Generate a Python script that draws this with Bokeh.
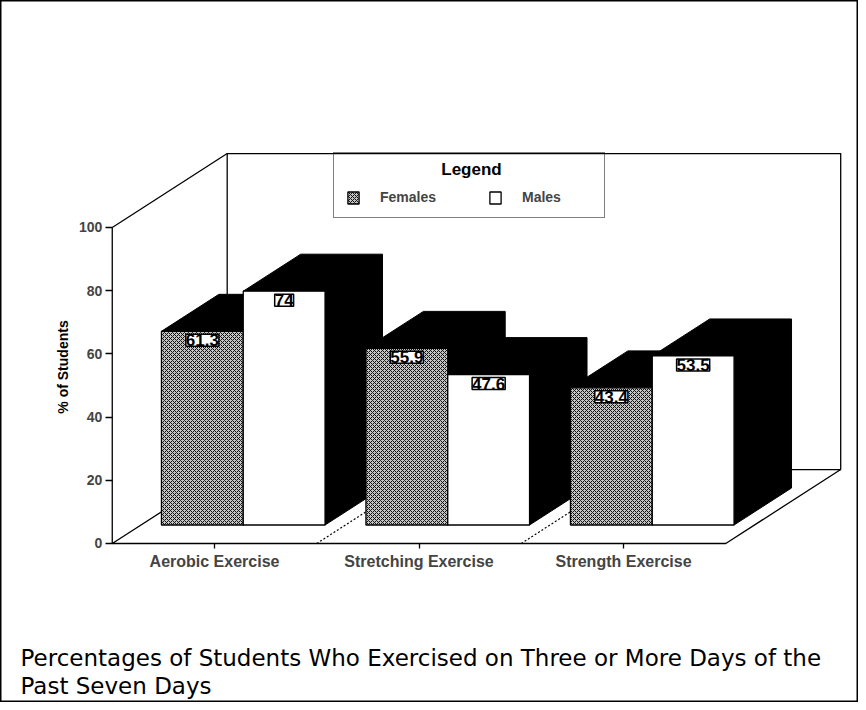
from math import pi
from bokeh.plotting import figure
from bokeh.models import (ColumnDataSource, Range1d, LinearAxis, FixedTicker,
                          LabelSet, Label, Legend, LegendItem)
from bokeh.core.properties import value
from bokeh.embed import file_html
from bokeh.resources import INLINE

# ---------------- data ----------------
categories = ["Aerobic Exercise", "Stretching Exercise", "Strength Exercise"]
females = [61.3, 55.9, 43.4]
males = [74, 47.6, 53.5]
series_names = ["Females", "Males"]
y_ticks = [0, 20, 40, 60, 80, 100]
y_axis_title = "% of Students"
legend_title = "Legend"
caption_lines = ["Percentages of Students Who Exercised on Three or More Days of the",
                 "Past Seven Days"]

# ---------------- geometry / style ----------------
W, H = 858, 702
DEPTH_X = 0.562      # full depth of the 3-D box, in category units
DEPTH_Y = 23.4       # full depth of the 3-D box, in value units
BAR_W = 0.40
FRONT = 0.25         # bars occupy depth fraction FRONT..FRONT+BAR_D
BAR_D = 0.5
BOLD = "Liberation Sans"

n = len(categories)
x_lo, x_hi = -0.5, n - 0.5
y_top = max(y_ticks)

p = figure(width=W, height=H, x_range=Range1d(-1.0465, 3.149), y_range=Range1d(-50.32, 171.83),
           output_backend="svg", toolbar_location=None, x_axis_location=None,
           y_axis_location=None, min_border=0)
p.grid.visible = False
p.outline_line_color = "black"
p.outline_line_width = 2
p.background_fill_color = "white"
p.border_fill_color = "white"

# back wall
p.quad(left=[x_lo + DEPTH_X], right=[x_hi + DEPTH_X], bottom=[DEPTH_Y], top=[y_top + DEPTH_Y],
       fill_color="white", line_color="black", line_width=1.3)
# floor
p.patch([x_lo, x_hi, x_hi + DEPTH_X, x_lo + DEPTH_X], [0, 0, DEPTH_Y, DEPTH_Y],
        fill_color="white", line_color="black", line_width=1.3)
# left wall edges (value axis line + top diagonal)
p.segment(x0=[x_lo, x_lo], y0=[0, y_top], x1=[x_lo, x_lo + DEPTH_X], y1=[y_top, y_top + DEPTH_Y],
          line_color="black", line_width=1.3)
# dotted category separators on the floor
seps = [i + 0.5 for i in range(n - 1)]
p.segment(x0=seps, y0=[0] * len(seps), x1=[s + DEPTH_X for s in seps],
          y1=[DEPTH_Y] * len(seps), line_color="black", line_width=1.2, line_dash="2 2")

# bars
fdx, fdy = FRONT * DEPTH_X, FRONT * DEPTH_Y
bdx, bdy = BAR_D * DEPTH_X, BAR_D * DEPTH_Y


def bar_cols(vals, shift):
    left = [i + shift + fdx for i in range(n)]
    right = [l + BAR_W for l in left]
    bottom = [fdy] * n
    top = [v + fdy for v in vals]
    return dict(left=left, right=right, bottom=bottom, top=top,
                xc=[(l + r) / 2 for l, r in zip(left, right)],
                text=[f"{v:g}" for v in vals])


fem = bar_cols(females, -BAR_W)
mal = bar_cols(males, 0.0)

# black extrusions (top + side faces)
xs, ys = [], []
for d in (fem, mal):
    for l, r, b, t in zip(d["left"], d["right"], d["bottom"], d["top"]):
        xs.append([l, l + bdx, r + bdx, r + bdx, r, r])
        ys.append([t, t + bdy, t + bdy, b + bdy, b, t])
p.patches(xs, ys, fill_color="black", line_color="black", line_width=1)

fsrc = ColumnDataSource(fem)
msrc = ColumnDataSource(mal)
fr = p.quad(left="left", right="right", bottom="bottom", top="top", source=fsrc,
            fill_color="#c4c4c4", hatch_pattern="x", hatch_scale=4, hatch_weight=1,
            hatch_color="#111111", line_color="black", line_width=1.3)
mr = p.quad(left="left", right="right", bottom="bottom", top="top", source=msrc,
            fill_color="white", line_color="black", line_width=1.3)

for src in (fsrc, msrc):
    p.add_layout(LabelSet(x="xc", y="top", text="text", source=src, text_align="center",
                          text_baseline="top", y_offset=-3, text_font=value(BOLD),
                          text_font_style="bold", text_font_size="17px", text_color="black",
                          background_fill_color="white", border_line_color="black",
                          border_line_width=1.5))

# axes
yax = LinearAxis(ticker=FixedTicker(ticks=y_ticks), fixed_location=x_lo, axis_line_color=None,
                 major_tick_out=7, major_tick_in=0, minor_tick_out=0, minor_tick_in=0,
                 major_tick_line_width=1.3, major_label_standoff=3,
                 major_label_text_font=BOLD, major_label_text_font_style="bold",
                 major_label_text_font_size="14px")
p.add_layout(yax, "left")
xax = LinearAxis(ticker=FixedTicker(ticks=list(range(n))), fixed_location=0,
                 major_label_overrides={i: c for i, c in enumerate(categories)},
                 axis_line_color=None, major_tick_out=5, major_tick_in=0,
                 minor_tick_out=0, minor_tick_in=0, major_tick_line_width=1.3,
                 major_label_standoff=5, major_label_text_font=BOLD,
                 major_label_text_font_style="bold", major_label_text_font_size="16px")
p.add_layout(xax, "below")

# value-axis title
p.add_layout(Label(x=x_lo, y=y_top / 2 + fdy, x_offset=-49, angle=pi / 2, text=y_axis_title,
                   text_align="center", text_baseline="middle", text_font=BOLD,
                   text_font_style="bold", text_font_size="14px", text_color="black"))

# legend (title space reserved by the legend, title text drawn centred above the items)
LEG_LEFT, LEG_BOTTOM = 333, 484
legend = Legend(items=[LegendItem(label=series_names[0], renderers=[fr]),
                       LegendItem(label=series_names[1], renderers=[mr])],
                orientation="horizontal", location=(LEG_LEFT, LEG_BOTTOM), title=legend_title,
                title_text_font=BOLD, title_text_font_style="bold", title_text_font_size="17px",
                title_text_alpha=0,
                label_text_font=BOLD, label_text_font_style="bold", label_text_font_size="14px",
                glyph_width=14, glyph_height=15, label_standoff=20, label_width=70, spacing=38,
                padding=12, title_standoff=4, border_line_color="black", border_line_width=1.3,
                background_fill_alpha=0)
p.add_layout(legend, "center")
p.add_layout(Label(x=LEG_LEFT + 138, y=LEG_BOTTOM + 49, x_units="screen", y_units="screen",
                   text=legend_title, text_align="center", text_baseline="middle",
                   text_font=BOLD, text_font_style="bold", text_font_size="17px",
                   text_color="black"))

# caption
for k, line in enumerate(caption_lines):
    p.add_layout(Label(x=20, y=45 - 28 * k, x_units="screen", y_units="screen", text=line,
                       text_font="DejaVu Sans", text_font_size="23px", text_color="black",
                       text_baseline="alphabetic"))

open("out.html", "w").write(file_html(p, INLINE))
